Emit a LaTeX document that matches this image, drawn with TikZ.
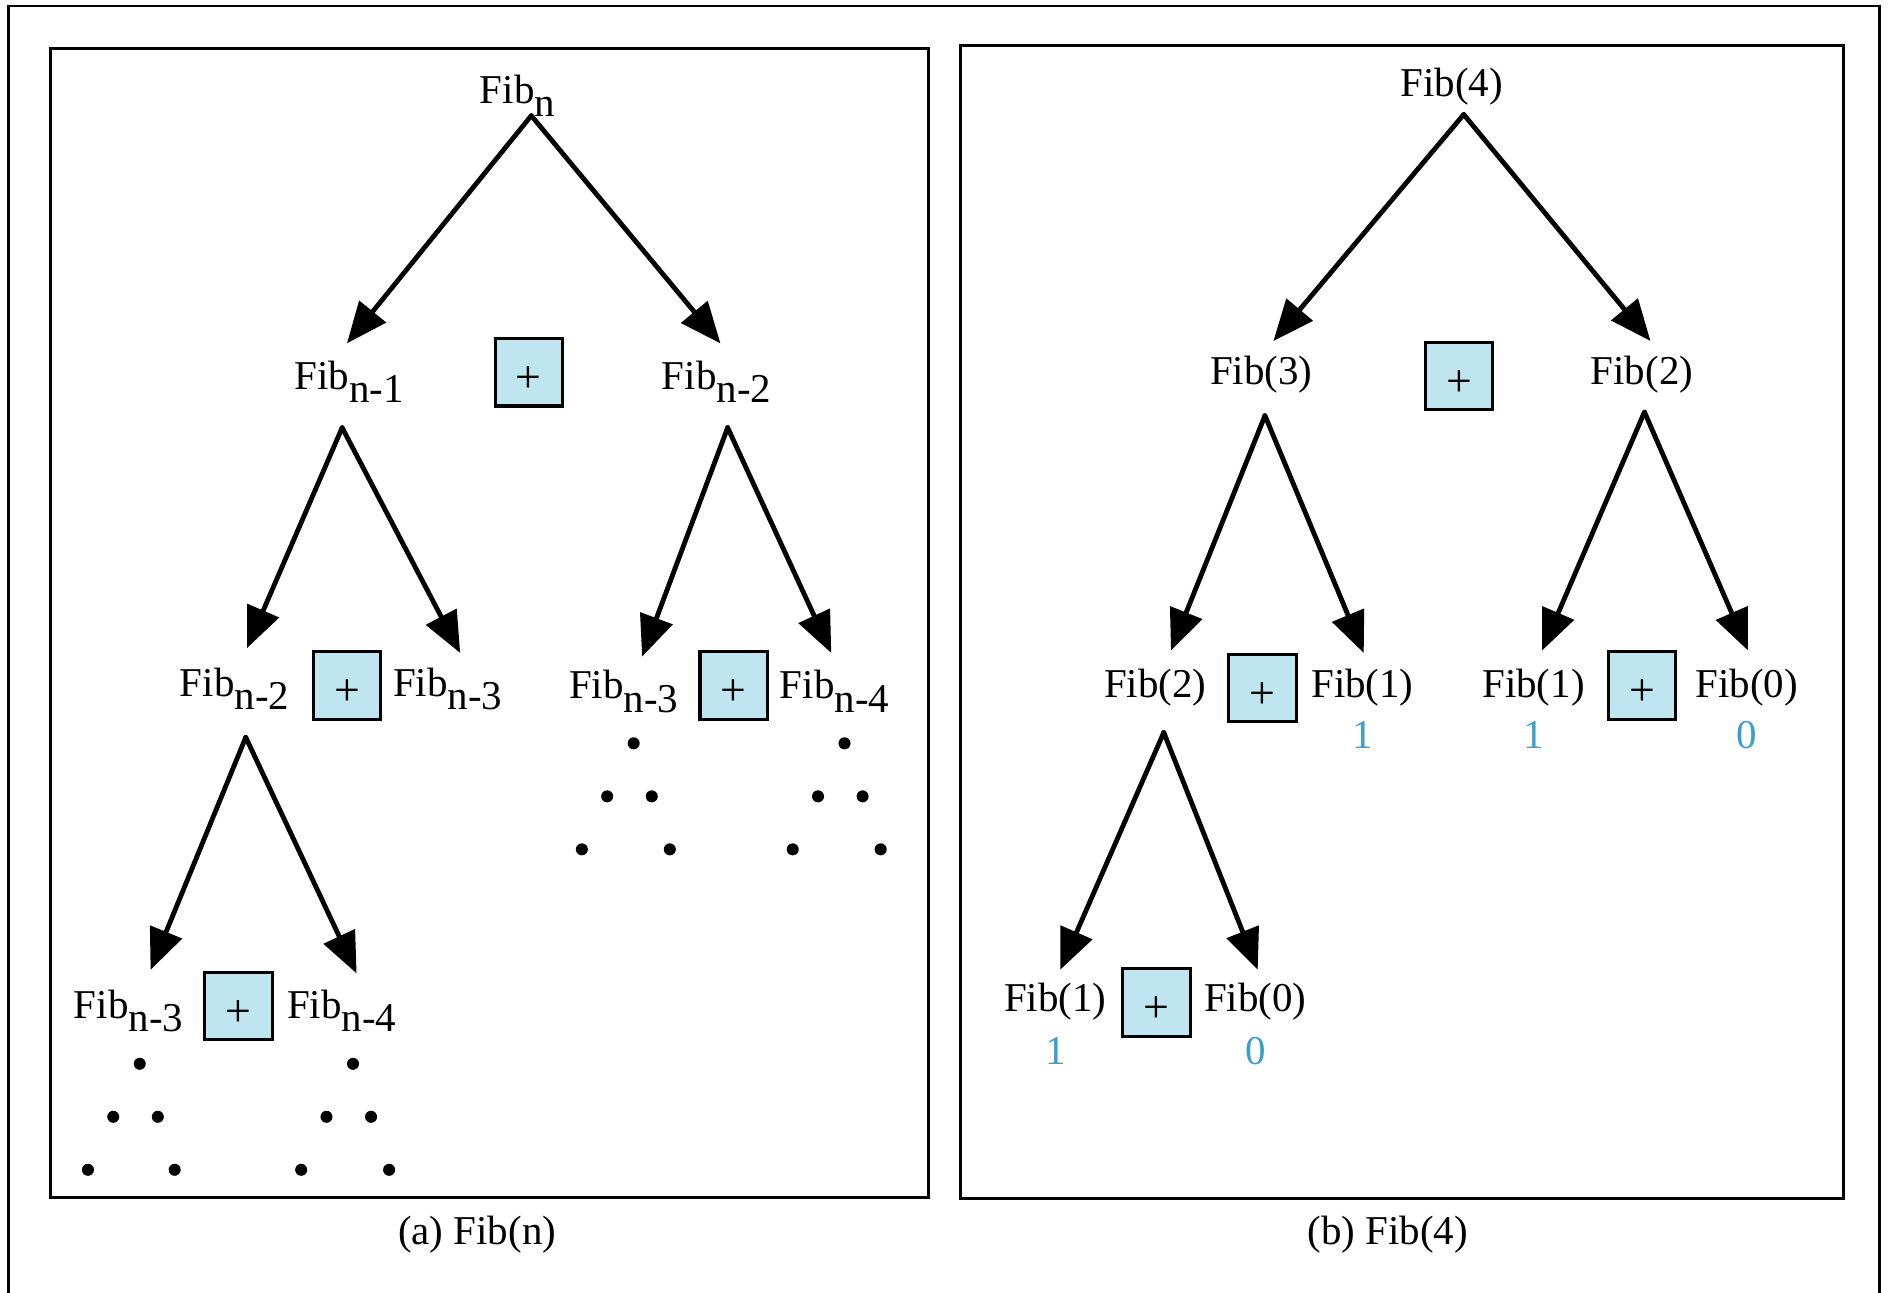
\documentclass[tikz,border=0pt]{standalone}
\usepackage{fontspec}
\setmainfont{Liberation Serif}
\usetikzlibrary{arrows.meta}
\definecolor{boxblue}{HTML}{BEE5F0}
\definecolor{valblue}{HTML}{3A9FCB}
\newcommand{\fibsub}[1]{Fib\raisebox{-5.5pt}{#1}}
\newcommand{\plussign}{\smash{\raisebox{-8.5pt}{\fontsize{19}{20}\selectfont +}}}

\begin{document}
\begin{tikzpicture}[x=0.5pt,y=-0.5pt,
  font=\fontsize{17}{20}\selectfont,
  lbl/.style={anchor=base west, inner sep=0pt},
  captext/.style={anchor=base, inner sep=0pt},
  plusbox/.style={draw, line width=1.3pt, fill=boxblue, minimum size=28pt, inner sep=0pt},
  call/.style={line width=2pt, line cap=round, -{Triangle[length=17pt,width=14pt]}},
  val/.style={anchor=base, inner sep=0pt, text=valblue},
  dot/.style={circle, fill, inner sep=0pt, minimum size=5pt},
  panel/.style={draw, line width=1.2pt}]

\useasboundingbox (0,0) rectangle (1568,1073);

% outer frame (open at the bottom)
\draw[line width=1.2pt] (7,1073) -- (7,5) -- (1560,5) -- (1560,1073);

% panels
\draw[panel] (42,40) rectangle (771,994);
\draw[panel] (797,38) rectangle (1530,995);
\node[captext] (capa) at (396,1033) {(a) Fib(n)};
\node[captext] (capb) at (1152,1033) {(b) Fib(4)};

% ---------- (a) general recursion ----------
\node[lbl] (an)   at (398,86)  {\fibsub{n}};
\node[lbl] (an1)  at (244,323) {\fibsub{n-1}};
\node[lbl] (an2)  at (549,323) {\fibsub{n-2}};
\node[lbl] (an2b) at (149,578) {\fibsub{n-2}};
\node[lbl] (an3a) at (326,578) {\fibsub{n-3}};
\node[lbl] (an3b) at (472,580) {\fibsub{n-3}};
\node[lbl] (an4b) at (647,580) {\fibsub{n-4}};
\node[lbl] (an3c) at (61,845)  {\fibsub{n-3}};
\node[lbl] (an4c) at (238,845) {\fibsub{n-4}};

\node[plusbox] (pa1) at (439,309) {\plussign};
\node[plusbox] (pa2) at (288,569) {\plussign};
\node[plusbox] (pa3) at (609,569) {\plussign};
\node[plusbox] (pa4) at (198,835) {\plussign};

\coordinate (san)   at (441,96);
\coordinate (san1)  at (284,355);
\coordinate (san2)  at (604,355);
\coordinate (san2b) at (204,612);
\coordinate (tan1)  at (288,285);
\coordinate (tan2)  at (598,285);
\coordinate (tan2b) at (205,538);
\coordinate (tan3a) at (382,542);
\coordinate (tan3b) at (533,545);
\coordinate (tan4b) at (690,542);
\coordinate (tan3c) at (125,805);
\coordinate (tan4c) at (296,808);

\draw[call] (san) -- (tan1);
\draw[call] (san) -- (tan2);
\draw[call] (san1) -- (tan2b);
\draw[call] (san1) -- (tan3a);
\draw[call] (san2) -- (tan3b);
\draw[call] (san2) -- (tan4b);
\draw[call] (san2b) -- (tan3c);
\draw[call] (san2b) -- (tan4c);

% continuation dots
\foreach \x/\y [count=\i] in {526/617, 504/661, 541/661, 483/705, 556/705,
                              701/617, 679/661, 716/661, 658/705, 731/705,
                              116/883, 94/927, 131/927, 73/971, 145/971,
                              293/883, 271/927, 308/927, 250/971, 323/971}
  \node[dot] (d\i) at (\x,\y) {};

% ---------- (b) Fib(4) ----------
\node[lbl] (b4)  at (1162,80)  {Fib(4)};
\node[lbl] (b3)  at (1004,319) {Fib(3)};
\node[lbl] (b2)  at (1320,319) {Fib(2)};
\node[lbl] (b2b) at (916,579)  {Fib(2)};
\node[lbl] (b1a) at (1088,579) {Fib(1)};
\node[lbl] (b1b) at (1230,579) {Fib(1)};
\node[lbl] (b0b) at (1407,579) {Fib(0)};
\node[lbl] (b1c) at (833,840)  {Fib(1)};
\node[lbl] (b0c) at (999,840)  {Fib(0)};

\node[val] (v1a) at (1131,621) {1};
\node[val] (v1b) at (1273,621) {1};
\node[val] (v0b) at (1450,621) {0};
\node[val] (v1c) at (876,884)  {1};
\node[val] (v0c) at (1042,884) {0};

\node[plusbox] (pb1) at (1211,312) {\plussign};
\node[plusbox] (pb2) at (1048,571) {\plussign};
\node[plusbox] (pb3) at (1363,569) {\plussign};
\node[plusbox] (pb4) at (960,832)  {\plussign};

\coordinate (sb4)  at (1215,95);
\coordinate (sb3)  at (1050,345);
\coordinate (sb2)  at (1365,342);
\coordinate (sb2b) at (966,608);
\coordinate (tb3)  at (1057,283);
\coordinate (tb2)  at (1370,283);
\coordinate (tb2b) at (972,540);
\coordinate (tb1a) at (1132,542);
\coordinate (tb1b) at (1280,540);
\coordinate (tb0b) at (1451,540);
\coordinate (tb1c) at (880,805);
\coordinate (tb0c) at (1044,805);

\draw[call] (sb4) -- (tb3);
\draw[call] (sb4) -- (tb2);
\draw[call] (sb3) -- (tb2b);
\draw[call] (sb3) -- (tb1a);
\draw[call] (sb2) -- (tb1b);
\draw[call] (sb2) -- (tb0b);
\draw[call] (sb2b) -- (tb1c);
\draw[call] (sb2b) -- (tb0c);

\end{tikzpicture}
\end{document}
